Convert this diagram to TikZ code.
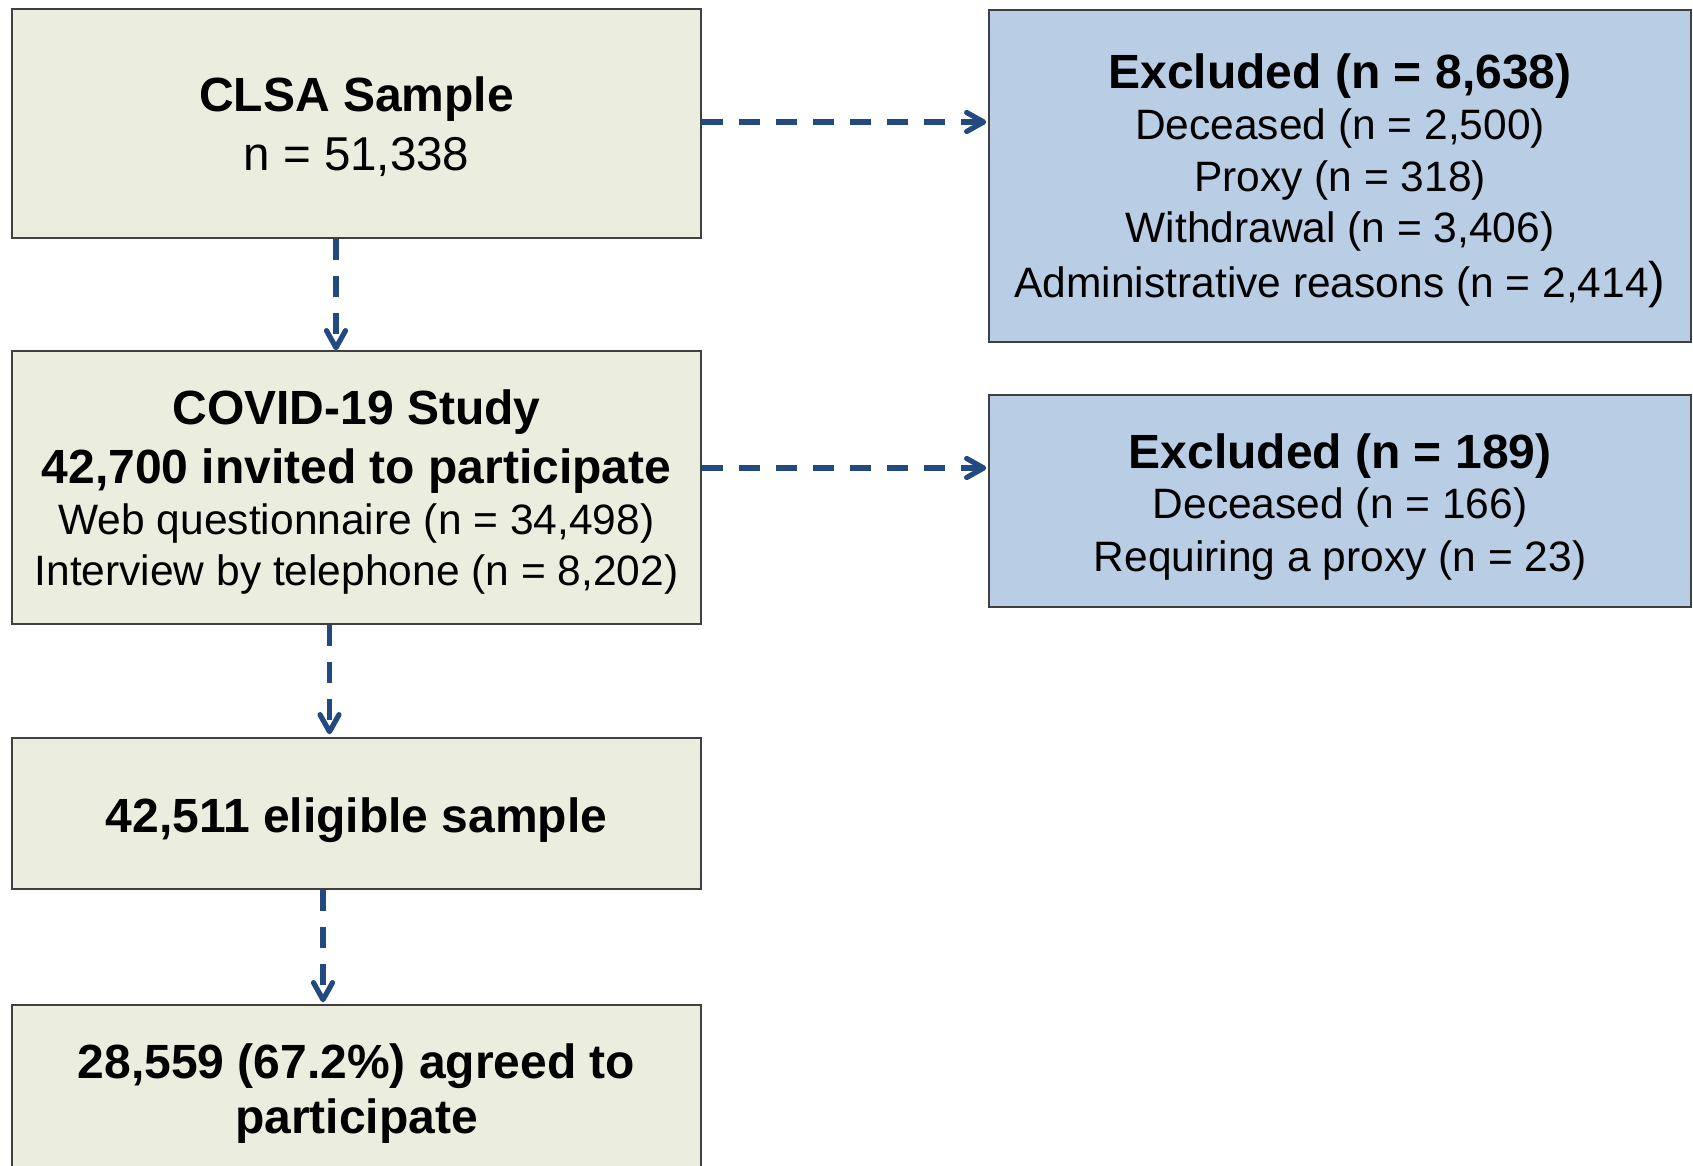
\documentclass[tikz,border=0pt]{standalone}
\usepackage{fontspec}
\setmainfont{Liberation Sans}
\usetikzlibrary{arrows.meta}
\definecolor{gfill}{HTML}{EBEEDE}
\definecolor{bfill}{HTML}{B9CDE5}
\definecolor{arrc}{HTML}{224A80}
\definecolor{edge}{HTML}{404040}
\tikzset{
  gbox/.style={draw=edge, line width=1.5pt, fill=gfill, rectangle, inner sep=0pt, minimum width=689pt},
  bbox/.style={draw=edge, line width=1.5pt, fill=bfill, rectangle, inner sep=0pt, minimum width=702pt},
  bt/.style={anchor=base, inner sep=0pt, font=\fontsize{48}{58}\selectfont\bfseries},
  rt/.style={anchor=base, inner sep=0pt, font=\fontsize{42.5}{52}\selectfont},
  arr/.style={draw=arrc, line width=5.2pt, dash pattern=on 21pt off 16pt,
    -{Straight Barb[length=17pt, width=19pt, line cap=round, line join=round]}}
}
\begin{document}
\begin{tikzpicture}[x=1pt, y=-1pt]
\useasboundingbox (0,0) rectangle (1693,1165);
\fill[white] (0,0) rectangle (1693,1165);
% left column boxes
\node[gbox, minimum height=229pt] (clsa) at (356.5,123.5) {};
\node[gbox, minimum height=273pt] (covid) at (356.5,487.5) {};
\node[gbox, minimum height=151pt] (elig) at (356.5,813.5) {};
\node[gbox, minimum height=180pt] (agreed) at (356.5,1095) {};
% right column boxes
\node[bbox, minimum height=332pt] (excla) at (1340,176) {};
\node[bbox, minimum height=212pt] (exclb) at (1340,501) {};
% texts
\node[bt] (t1) at (356.5,111) {CLSA Sample};
\node[rt, font=\fontsize{47.5}{56}\selectfont] (t2) at (356.5,170) {n = 51,338};
\node[bt] (t3) at (356.5,424) {COVID-19 Study};
\node[bt] (t4) at (356.5,483) {42,700 invited to participate};
\node[rt] (t5) at (356.5,534) {Web questionnaire (n = 34,498)};
\node[rt] (t6) at (356.5,585) {Interview by telephone (n = 8,202)};
\node[bt] (t7) at (356.5,832) {42,511 eligible sample};
\node[bt] (t8) at (356.5,1078) {28,559 (67.2\%) agreed to};
\node[bt] (t9) at (356.5,1133) {participate};
\node[bt] (e1) at (1340,88) {Excluded (n = 8,638)};
\node[rt] (e2) at (1340,139) {Deceased (n = 2,500)};
\node[rt] (e3) at (1340,191) {Proxy (n = 318)};
\node[rt] (e4) at (1340,242) {Withdrawal (n = 3,406)};
\node[rt] (e5) at (1340,297) {Administrative reasons (n = 2,414{\fontsize{50}{52}\selectfont )}};
\node[bt] (f1) at (1340,468) {Excluded (n = 189)};
\node[rt] (f2) at (1340,518) {Deceased (n = 166)};
\node[rt] (f3) at (1340,571) {Requiring a proxy (n = 23)};
% connectors
\draw[arr] ([xshift=-20.5pt]clsa.south) -- ([xshift=-20.5pt]clsa.south |- covid.north);
\draw[arr, shorten >=3pt] ([xshift=-27pt]covid.south) -- ([xshift=-27pt]covid.south |- elig.north);
\draw[arr, shorten >=2pt] ([xshift=-33.5pt]elig.south) -- ([xshift=-33.5pt]elig.south |- agreed.north);
\draw[arr, shorten >=2pt] ([yshift=1.5pt]clsa.east) -- ([yshift=1.5pt]clsa.east -| excla.west);
\draw[arr, shorten >=2pt] ([yshift=19.5pt]covid.east) -- ([yshift=19.5pt]covid.east -| exclb.west);
\end{tikzpicture}
\end{document}
